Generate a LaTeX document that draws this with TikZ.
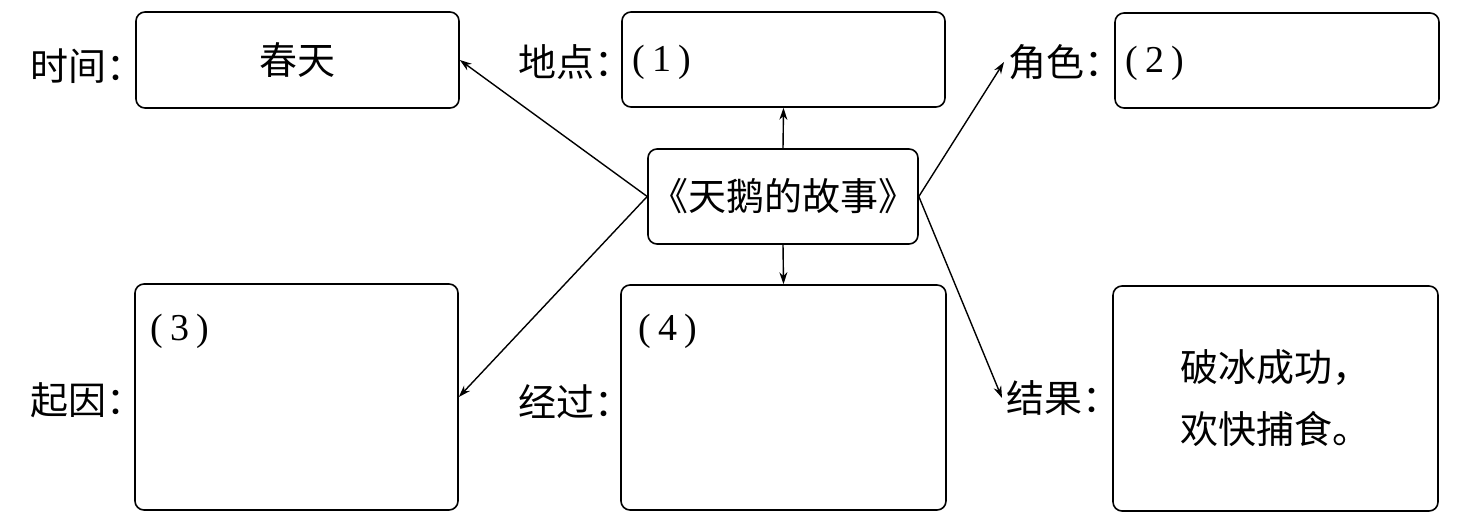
\documentclass[tikz,border=0pt]{standalone}
\usepackage{fontspec}
\newfontfamily\cjk{Noto Sans CJK SC}
\newfontfamily\numfont{Liberation Serif}
\usetikzlibrary{arrows.meta}
\begin{document}
\begin{tikzpicture}[x=0.5pt,y=-0.5pt,
  box/.style={draw, line width=0.8pt, rounded corners=4.5pt, inner sep=0pt},
  cjktext/.style={font=\cjk\fontsize{19}{31}\selectfont},
  lab/.style={cjktext, inner sep=2pt, anchor=west},
  num/.style={font=\numfont\fontsize{19}{22}\selectfont, inner sep=0pt, anchor=west},
  arr/.style={line width=0.7pt, -{Stealth[length=6pt,width=4pt]}}]
\useasboundingbox (0,0) rectangle (1460,519);

% boxes
\node[box, cjktext, minimum width=161.5pt, minimum height=48pt] (time) at (297.5,60) {春天};
\node[box, minimum width=161.5pt, minimum height=47.5pt] (loc) at (783.5,59.5) {};
\node[box, minimum width=162pt, minimum height=47.5pt] (role) at (1277,60.5) {};
\node[box, cjktext, minimum width=135pt, minimum height=47.5pt] (c) at (783,196.5) {《天鹅的故事》};
\node[box, minimum width=161.5pt, minimum height=113pt] (cause) at (296.5,397) {};
\node[box, minimum width=162.5pt, minimum height=112.5pt] (proc) at (783.5,397.5) {};
\node[box, cjktext, align=left, minimum width=162.5pt, minimum height=112.5pt] (res) at (1275.5,398.5) {破冰成功，\\欢快捕食。};

% labels
\node[lab] (timelab) at (26,66) {时间：};
\node[lab] (loclab) at (514,62) {地点：};
\node[lab] (rolelab) at (1004,62) {角色：};
\node[lab] (causelab) at (26,400) {起因：};
\node[lab] (proclab) at (514,402) {经过：};
\node[lab] (reslab) at (1002,398) {结果：};

% numbers
\node[num] (n1) at (632,62) {(\hspace{3.5pt}1\hspace{3.5pt})};
\node[num] (n2) at (1125,63) {(\hspace{3.5pt}2\hspace{3.5pt})};
\node[num] (n3) at (150,331) {(\hspace{3.5pt}3\hspace{3.5pt})};
\node[num] (n4) at (638,331) {(\hspace{3.5pt}4\hspace{3.5pt})};

% connectors
\draw[arr] (c.west) -- (time.east);
\draw[arr] (c.west) -- (cause.east);
\draw[arr] (c.north) -- (loc.south);
\draw[arr] (c.south) -- (proc.north);
\draw[arr] (c.east) -- (rolelab.west);
\draw[arr] (c.east) -- (reslab.west);
\end{tikzpicture}
\end{document}
